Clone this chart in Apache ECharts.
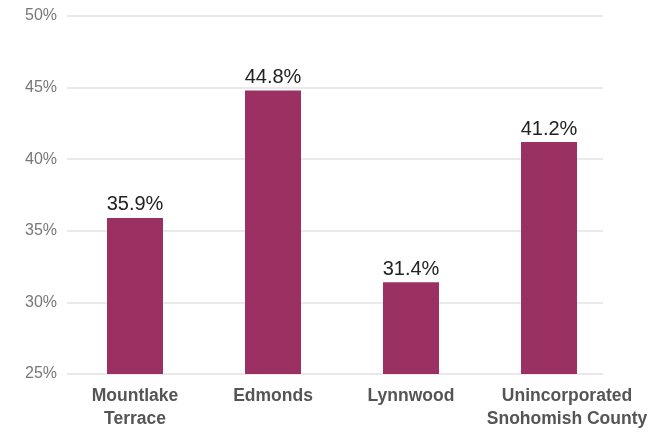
<!DOCTYPE html>
<html>
<head>
<meta charset="utf-8">
<script src="https://cdn.jsdelivr.net/npm/echarts@6/dist/echarts.min.js"></script>
<style>
html,body{margin:0;padding:0;background:#fff;}
#chart{width:652px;height:437px;}
</style>
</head>
<body>
<div id="chart"></div>
<script>
var categories = ['Mountlake\nTerrace', 'Edmonds', 'Lynnwood', 'Unincorporated\nSnohomish County'];
var values = [35.9, 44.8, 31.4, 41.2];
var yTicks = {min: 25, max: 50, interval: 5};

var font = '"Liberation Sans", Arial, sans-serif';
var catData = categories.map(function (c, i) {
  return i === categories.length - 1 ? {value: c, textStyle: {padding: [0, 0, 0, 36]}} : c;
});
var chart = echarts.init(document.getElementById('chart'));
chart.setOption({
  animation: false,
  grid: [
    {left: 67, right: 49, top: 16, bottom: 63},
    {left: 66, right: 34, top: 16, bottom: 63}
  ],
  xAxis: [
    {gridIndex: 0, type: 'category', data: categories, show: false},
    {gridIndex: 1, type: 'category', data: catData,
     axisLine: {show: false}, axisTick: {show: false},
     axisLabel: {margin: 11, interval: 0, color: '#555', fontWeight: 'bold', fontSize: 17.5,
                 fontFamily: font, lineHeight: 23}}
  ],
  yAxis: [
    {gridIndex: 0, type: 'value', min: yTicks.min, max: yTicks.max, interval: yTicks.interval,
     axisLine: {show: false}, axisTick: {show: false},
     axisLabel: {formatter: '{value}%', color: '#777', fontSize: 16, fontFamily: font, margin: 10},
     splitLine: {lineStyle: {color: '#e2e2e2', width: 1.5}}},
    {gridIndex: 1, type: 'value', min: yTicks.min, max: yTicks.max, interval: yTicks.interval,
     show: false, splitLine: {show: false}}
  ],
  series: [{
    type: 'bar', xAxisIndex: 1, yAxisIndex: 1,
    data: values, barWidth: 56,
    itemStyle: {color: '#9b3162'},
    label: {show: true, position: 'top', distance: 3, formatter: function(p){return p.value.toFixed(1)+'%';},
            color: '#222', fontSize: 20, fontFamily: font}
  }]
});
</script>
</body>
</html>
